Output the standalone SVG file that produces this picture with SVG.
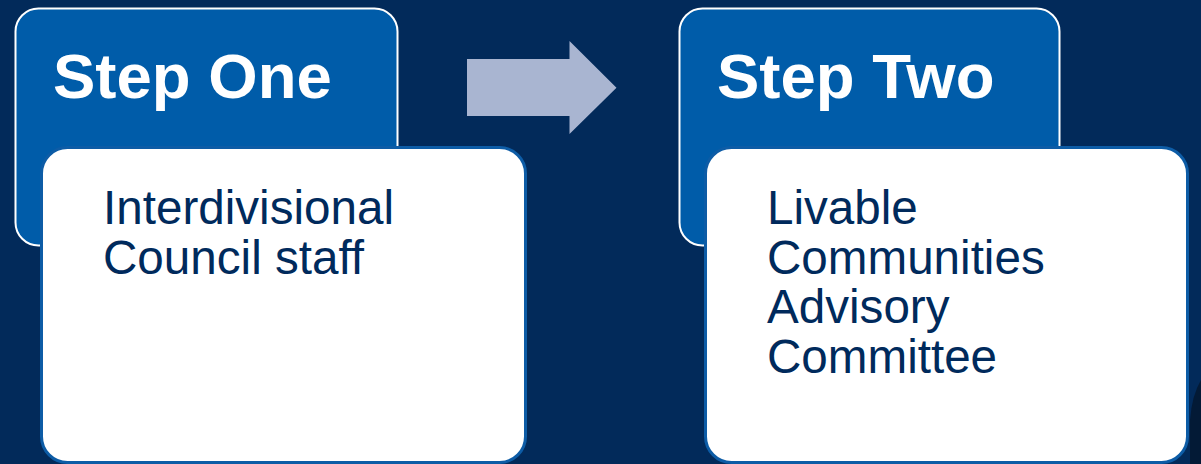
<svg xmlns="http://www.w3.org/2000/svg" width="1201" height="464" viewBox="0 0 1201 464">
  <style>
    .head { fill: #005ca9; stroke: #ffffff; stroke-width: 2; }
    .body { fill: #ffffff; stroke: #0d5ca6; stroke-width: 3; }
    .title { font-family: "Liberation Sans", Arial, sans-serif; font-weight: bold; font-size: 63.5px; fill: #ffffff; }
    .txt { font-family: "Liberation Sans", Arial, sans-serif; font-size: 47.6px; fill: #002a5c; }
    .arrow { fill: #a9b5d1; }
  </style>
  <rect width="1201" height="464" fill="#022a5a"/>
  <path d="M1201,380 Q1192,395 1190,420 L1190,464 L1201,464 Z" fill="#031a36"/>
  <g id="step-one">
    <rect class="head" x="15.5" y="8.5" width="382" height="237" rx="23"/>
    <text class="title" x="53" y="98">Step One</text>
    <rect class="body" x="41.5" y="147.5" width="484" height="315" rx="26"/>
    <text class="txt" x="103" y="224">Interdivisional</text>
    <text class="txt" x="103" y="273.5">Council staff</text>
  </g>
  <g id="connectors">
    <polygon class="arrow" points="467,59 569.5,59 569.5,41 616.5,87.7 569.5,134 569.5,116 467,116"/>
  </g>
  <g id="step-two">
    <rect class="head" x="679.5" y="8.5" width="380" height="237" rx="23"/>
    <text class="title" x="717" y="98">Step Two</text>
    <rect class="body" x="705.5" y="147.5" width="482" height="315" rx="26"/>
    <text class="txt" x="767" y="224">Livable</text>
    <text class="txt" x="767" y="273.5">Communities</text>
    <text class="txt" x="767" y="323">Advisory</text>
    <text class="txt" x="767" y="372.5">Committee</text>
  </g>
</svg>
